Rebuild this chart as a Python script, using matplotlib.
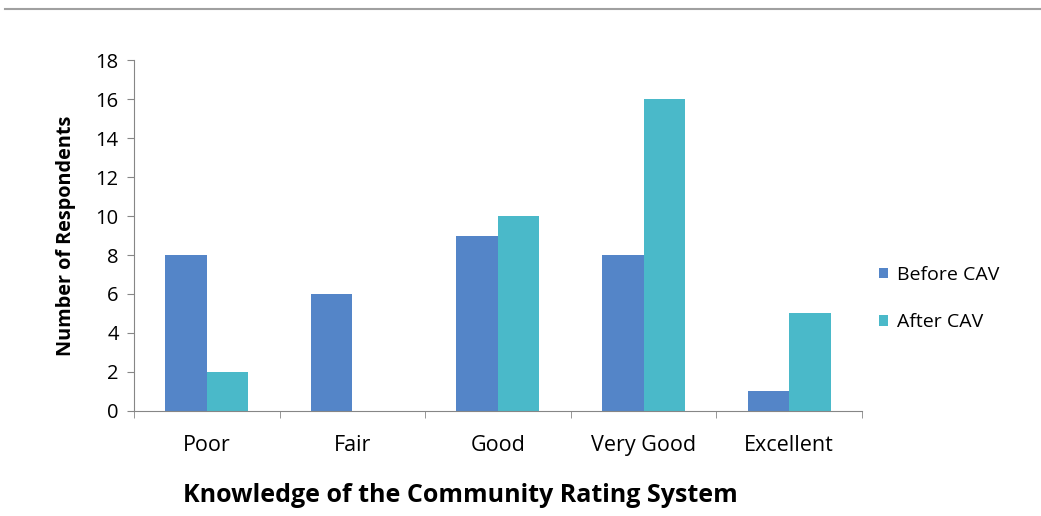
import numpy as np
import matplotlib.pyplot as plt
from matplotlib.lines import Line2D

categories = ['Poor', 'Fair', 'Good', 'Very Good', 'Excellent']
before_cav = [8, 6, 9, 8, 1]
after_cav = [2, 0, 10, 16, 5]
yticks = [0, 2, 4, 6, 8, 10, 12, 14, 16, 18]

plt.rcParams['font.family'] = ['Open Sans', 'DejaVu Sans']

fig = plt.figure(figsize=(10.41, 5.16), dpi=100)
ax = fig.add_axes([0.1287, 0.2035, 0.6993, 0.6802])

x = np.arange(len(categories))
w = 0.285
ax.bar(x - w / 2, before_cav, w, color='#5485c8', label='Before CAV')
ax.bar(x + w / 2, after_cav, w, color='#4ab9c9', label='After CAV')

ax.set_xlim(-0.5, len(categories) - 0.5)
ax.set_ylim(0, 18)
ax.set_yticks(yticks)
ax.set_xticks(x)
ax.set_xticklabels(categories, fontsize=15.5)
ax.set_xticks(np.arange(len(categories) + 1) - 0.5, minor=True)
ax.tick_params(axis='x', which='major', length=0, pad=17)
ax.tick_params(axis='x', which='minor', length=5, color='#868686')
ax.tick_params(axis='y', length=5, color='#868686', labelsize=14.5, pad=6)

for s in ['top', 'right']:
    ax.spines[s].set_visible(False)
for s in ['left', 'bottom']:
    ax.spines[s].set_color('#868686')

ax.set_ylabel('Number of Respondents', fontsize=14.3, fontweight='bold')
ax.yaxis.set_label_coords(-0.079, 0.5)
ax.set_xlabel('Knowledge of the Community Rating System', fontsize=18,
              fontweight='bold')
ax.xaxis.set_label_coords(0.449, -0.204)

ax.legend(loc='center left', bbox_to_anchor=(1.0, 0.32), frameon=False,
          fontsize=14, handlelength=0.45, handleheight=0.45, handletextpad=0.45,
          labelspacing=1.5)

# thin rule along the top edge
fig.add_artist(Line2D([0.005, 1.0], [0.982, 0.982], color='#a0a0a0', lw=1.5))

fig.savefig('out.png', dpi=100, facecolor='white')
